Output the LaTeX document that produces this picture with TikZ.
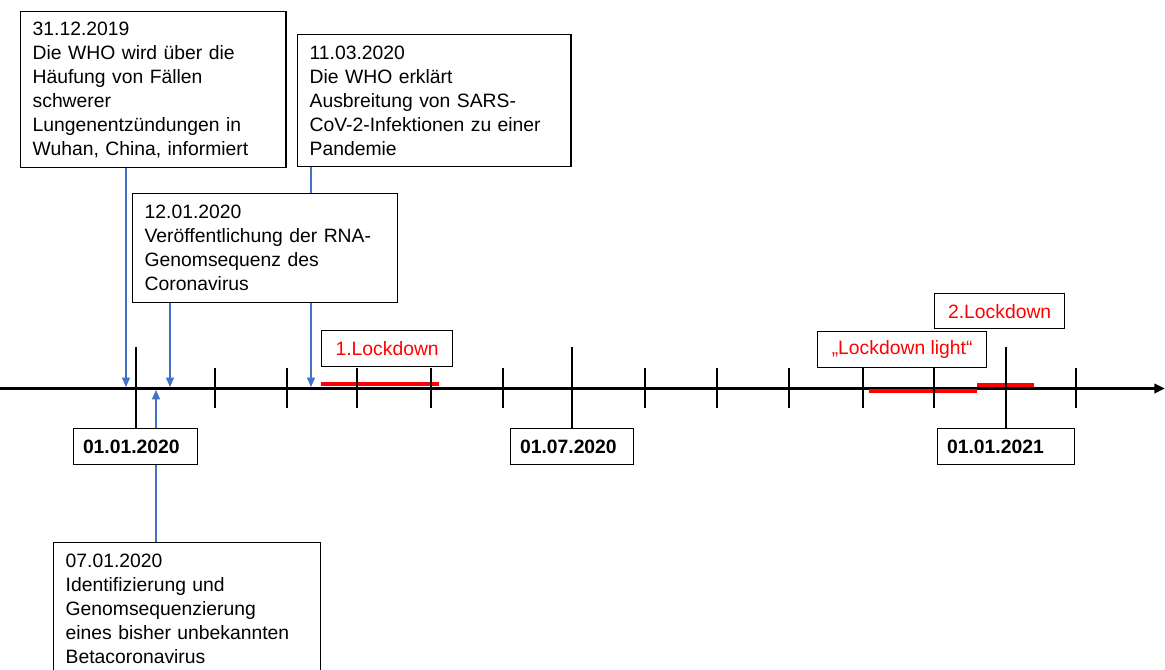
\documentclass[tikz,border=0pt]{standalone}
\usepackage{fontspec}
\setmainfont{Liberation Sans}
\usetikzlibrary{arrows.meta,backgrounds}
\definecolor{evblue}{HTML}{4472C4}
\tikzset{
  evbox/.style={draw, line width=1pt, fill=white, anchor=north west, align=left,
    inner xsep=9pt, font=\fontsize{14.5}{18}\selectfont},
  datebox/.style={draw, line width=1pt, fill=white, anchor=north west, align=left,
    inner xsep=7pt, minimum height=27pt, font=\fontsize{14.5}{18}\selectfont\bfseries},
  lockbox/.style={draw, line width=1pt, fill=white, anchor=north west,
    minimum height=27pt, text=red, font=\fontsize{14.5}{18}\selectfont},
  evarrow/.style={evblue, line width=0.8pt, -{Triangle[length=7pt,width=6pt]}},
  smalltick/.style={line width=1.1pt},
  bigtick/.style={line width=1.9pt},
  redbar/.style={red, line width=3pt}
}
\begin{document}
\begin{tikzpicture}[x=0.75pt,y=-0.75pt]
  \useasboundingbox (0,0) rectangle (1165,670);

  \draw[line width=1.9pt,-{Triangle[length=8pt,width=7pt]}] (0,388.5) -- (1165,388.5);

  \draw[redbar] (321,384.5) -- (439,384.5);
  \draw[redbar] (869,391) -- (977,391);
  \draw[redbar] (977,385) -- (1034,385);

  \foreach \x in {215,287,357,431,503,645,717,789,863,934,1076}
    \draw[smalltick] (\x,368) -- (\x,408);

  \node[evbox, text width=181pt, minimum height=117pt] (e1) at (20,11)
    {31.12.2019\\Die WHO wird über die\\Häufung von Fällen\\schwerer\\Lungenentzündungen in\\Wuhan, China, informiert};
  \node[evbox, text width=187pt, minimum height=99pt] (e2) at (297,34)
    {11.03.2020\\Die WHO erklärt\\Ausbreitung von SARS-\\CoV-2-Infektionen zu einer\\Pandemie};
  \node[evbox, text width=180.5pt, minimum height=81.75pt] (e3) at (132,193)
    {12.01.2020\\Veröffentlichung der RNA-\\Genomsequenz des\\Coronavirus};
  \node[evbox, text width=182pt, minimum height=99pt] (e4) at (53,542)
    {07.01.2020\\Identifizierung und\\Genomsequenzierung\\eines bisher unbekannten\\Betacoronavirus};

  \node[datebox, text width=79pt] (d1) at (73,428) {01.01.2020};
  \node[datebox, text width=78pt] (d2) at (510,428) {01.07.2020};
  \node[datebox, text width=88.5pt] (d3) at (937,428) {01.01.2021};

  \coordinate (t1) at (136,347);
  \coordinate (t2) at (572,347);
  \coordinate (t3) at (1006,347);
  \draw[bigtick] (t1) -- (t1 |- d1.north);
  \draw[bigtick] (t2) -- (t2 |- d2.north);
  \draw[bigtick] (t3) -- (t3 |- d3.north);

  \node[lockbox, minimum width=98.25pt] (l1) at (321,330) {1.Lockdown};
  \node[lockbox, minimum width=126.75pt] (l2) at (817,331) {„Lockdown light“};
  \node[lockbox, minimum width=97.5pt, minimum height=26.25pt] (l3) at (934,293) {2.Lockdown};

  \begin{scope}[on background layer]
    \coordinate (p1) at (126,387);
    \coordinate (p2) at (170,387);
    \coordinate (p3) at (311,387);
    \coordinate (p4) at (156,390);
    \draw[evarrow] (e1.south -| p1) -- (p1);
    \draw[evarrow] (e3.south -| p2) -- (p2);
    \draw[evarrow] (e2.south -| p3) -- (p3);
    \draw[evarrow] (e4.north -| p4) -- (p4);
  \end{scope}
\end{tikzpicture}
\end{document}
